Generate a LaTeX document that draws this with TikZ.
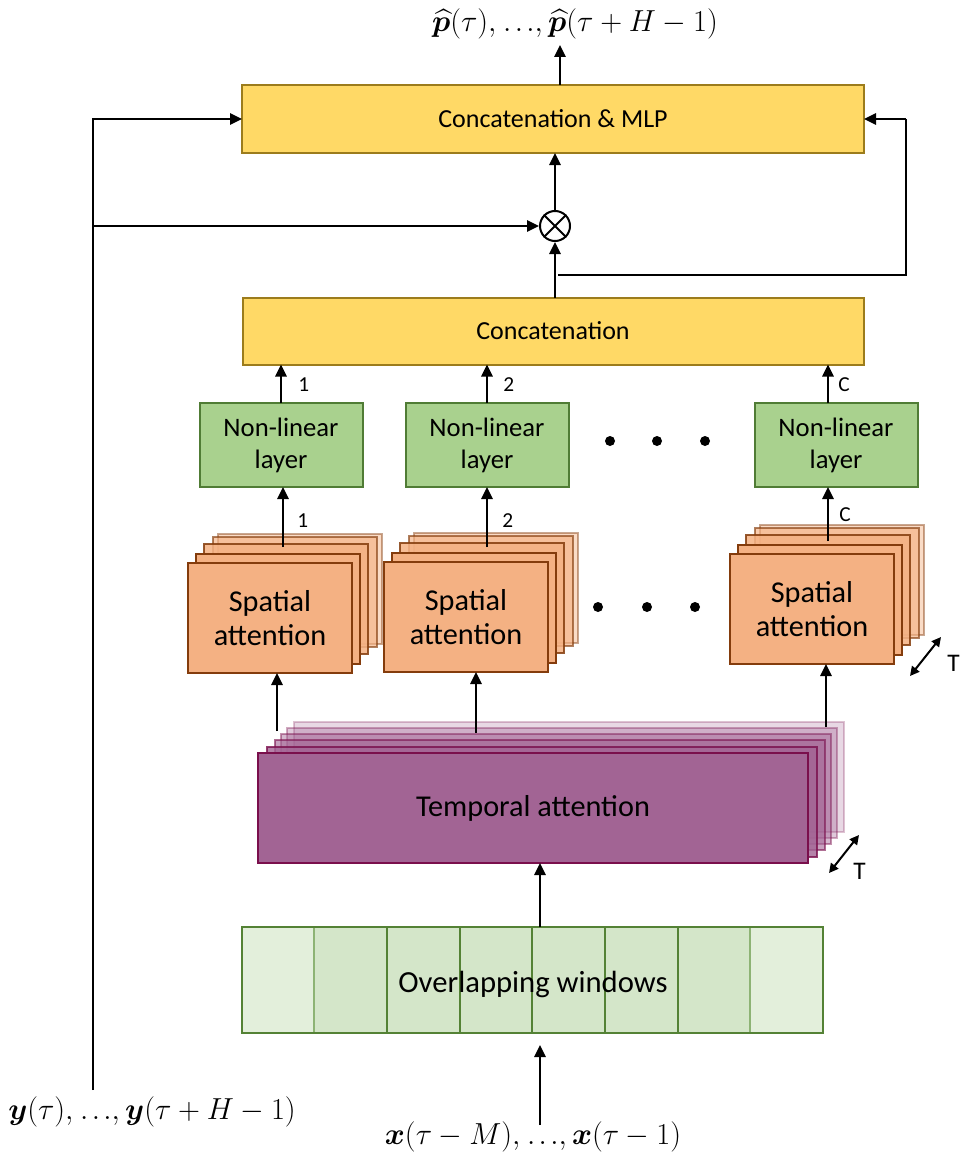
\documentclass[tikz,border=0pt]{standalone}
\usepackage{amsmath,bm}
\usepackage{fontspec}
\setmainfont{Carlito}
\usetikzlibrary{arrows.meta}

\definecolor{yfill}{HTML}{FFD966}
\definecolor{yedge}{HTML}{9C7C1C}
\definecolor{gfill}{HTML}{A9D18E}
\definecolor{gedge}{HTML}{507C35}
\definecolor{sfill}{HTML}{F4B183}
\definecolor{sedge}{HTML}{843C0C}
\definecolor{tfill}{HTML}{A26494}
\definecolor{tedge}{HTML}{7A0F4C}
\definecolor{wlight}{HTML}{E3EFDB}
\definecolor{wmid}{HTML}{D4E6C9}
\definecolor{wedge}{HTML}{548235}
\definecolor{wsoft}{HTML}{8DB374}

% compact ellipsis between comma-separated terms
\newcommand{\tightdots}{\mkern1mu.\mkern2mu.\mkern2mu.}
% series labels, set slightly larger than the nearest math design size
\newcommand{\serieslabel}[1]{\scalebox{1.1}{$#1$}}

\begin{document}
\begin{tikzpicture}[x=0.75pt,y=-0.75pt,
  arr/.style={line width=1.5pt,-{Triangle[length=9pt,width=8.5pt]}},
  dbl/.style={line width=1.5pt,{Triangle[length=7pt,width=7pt]}-{Triangle[length=7pt,width=7pt]}},
  ln/.style={line width=1.5pt},
  wh/.style 2 args={minimum width=#1*0.75pt,minimum height=#2*0.75pt,inner sep=0pt,outer sep=0pt},
  ybox/.style={draw=yedge,fill=yfill,line width=1.5pt,font=\fontsize{19.5}{23}\selectfont},
  gbox/.style={draw=gedge,fill=gfill,line width=1.5pt,align=center,wh={163}{84},
    font=\fontsize{20}{24}\selectfont},
  sbox/.style={draw=sedge,fill=sfill,line width=1.5pt,align=center,wh={164}{110},
    font=\fontsize{22.7}{25.5}\selectfont},
  tbox/.style={draw=tedge,fill=tfill,line width=1.5pt,wh={550}{110},
    font=\fontsize{22.7}{26}\selectfont},
  cell/.style={line width=1.5pt,wh={73}{106}},
  small/.style={font=\fontsize{16}{18}\selectfont,inner sep=0pt},
  tlab/.style={font=\fontsize{19}{21}\selectfont,inner sep=0pt},
  mathlab/.style={font=\fontsize{22}{26}\selectfont,inner sep=0pt}
]
\useasboundingbox (0,0) rectangle (960,1156);

% ---- spatial attention stack: a pile of translucent copies behind the front box
\newcommand{\spatialstack}[3]{%
  \foreach \dx/\dy/\op in {30/-29/0.45, 25/-26/0.65, 16/-19/0.85, 8/-9/1}
    \node[sbox,fill opacity=\op,draw opacity=\op] at (#2+\dx,#3+\dy) {};
  \node[sbox] (#1) at (#2,#3) {Spatial\\attention};
}

% ---- outputs and the top fusion block
\node[ybox,wh={622}{68}] (mlp) at (553,119) {Concatenation \& MLP};
\node[mathlab] (phat) at (575,24)
  {\serieslabel{\widehat{\bm p}(\tau),\tightdots,\widehat{\bm p}(\tau+H-1)}};
\coordinate (outtip) at (560,45);
\draw[arr] (mlp.north -| outtip) -- (outtip);

\node[circle,draw,line width=1.5pt,minimum size=30*0.75pt,inner sep=0pt] (mul) at (555,226) {};
\draw[line width=1.5pt] (mul.north east) -- (mul.south west)
                        (mul.north west) -- (mul.south east);
\draw[arr] (mul.north) -- (mlp.south -| mul);

\node[ybox,wh={621}{67}] (concat) at (553,331) {Concatenation};
\draw[arr] (concat.north -| mul) -- (mul.south);

% skip connection round the right side
\coordinate (tap) at (558,275);
\coordinate (rail) at (906,119);
\draw[ln] (tap) -| (rail);
\draw[arr] (rail) -- (mlp.east);

% target series fed in from the left
\node[mathlab] (ylab) at (152,1112)
  {\serieslabel{\bm y(\tau),\tightdots,\bm y(\tau+H-1)}};
\coordinate (ybot) at (93,1090);
\coordinate (ytap) at (93,226);
\draw[arr] (ybot) |- (mlp.west);
\draw[arr] (ytap) -- (mul.west);

% ---- non-linear heads
\node[gbox] (nl1) at (281,445) {Non-linear\\layer};
\node[gbox] (nl2) at (487,445) {Non-linear\\layer};
\node[gbox] (nlC) at (836,445) {Non-linear\\layer};
\draw[arr] (nl1.north) -- (concat.south -| nl1);
\draw[arr] (nl2.north) -- (concat.south -| nl2);
\draw[arr] (nl1.north -| 828,0) -- (concat.south -| 828,0);
\node[small,anchor=west] (n1a) at (298,385) {1};
\node[small,anchor=west] (n2a) at (503,385) {2};
\node[small,anchor=west] (nCa) at (838,385) {C};
\foreach \x in {610,657,705} \fill (\x,441) circle[radius=5];

% ---- spatial attention stacks
\spatialstack{sa1}{270}{618}
\spatialstack{sa2}{466}{617}
\spatialstack{saC}{812}{609}
\draw[arr] (283,547) -- (nl1.south -| 283,0);
\draw[arr] (487,547) -- (nl2.south);
\draw[arr] (828,541) -- (nlC.south -| 828,0);
\node[small,anchor=west] (n1b) at (297,521) {1};
\node[small,anchor=west] (n2b) at (502,521) {2};
\node[small,anchor=west] (nCb) at (839,515) {C};
\foreach \x in {598,647,695} \fill (\x,607) circle[radius=5];
\coordinate (tsA) at (910,676);
\coordinate (teA) at (941,637);
\draw[dbl] (tsA) -- (teA);
\node[tlab,anchor=west] (TA) at (947,663) {T};

% ---- temporal attention stack
\foreach \dx/\dy/\op in {36/-31/0.25, 29/-25/0.35, 23/-19/0.45, 17/-13/0.6, 9/-6/0.8}
  \node[tbox,fill opacity=\op,draw opacity=\op] at (533+\dx,808+\dy) {};
\node[tbox] (ta) at (533,808) {Temporal attention};
\draw[arr] (277,731) -- (sa1.south -| 277,0);
\draw[arr] (476,733) -- (sa2.south -| 476,0);
\draw[arr] (826,727) -- (saC.south -| 826,0);
\coordinate (tsB) at (829,873);
\coordinate (teB) at (859,835);
\draw[dbl] (tsB) -- (teB);
\node[tlab,anchor=west] (TB) at (853,871) {T};

% ---- overlapping input windows
\node[cell,fill=wlight,draw=wedge] (w1) at (278,980) {};
\node[cell,fill=wmid,draw=wsoft] (w2) at (350,980) {};
\node[cell,fill=wmid,draw=wedge] (w3) at (423,980) {};
\node[cell,fill=wmid,draw=wedge] (w4) at (496,980) {};
\node[cell,fill=wmid,draw=wedge] (w5) at (568,980) {};
\node[cell,fill=wmid,draw=wedge] (w6) at (641,980) {};
\node[cell,fill=wmid,draw=wedge] (w7) at (714,980) {};
\node[cell,fill=wlight,draw=wsoft] (w8) at (786,980) {};
\draw[wedge,line width=1.5pt] (242,927) rectangle (823,1033);
\draw[wedge,line width=1.5pt] (w3.north west) -- (w3.south west)
  (w7.north west) -- (w7.south west) (w6.north west) -- (w6.south west);
\node[font=\fontsize{23}{27}\selectfont,inner sep=0pt] (owin) at (533,984) {Overlapping windows};
\coordinate (wtop) at (540,927);
\draw[arr] (wtop) -- (ta.south -| wtop);

\node[mathlab] (xlab) at (533,1137)
  {\serieslabel{\bm x(\tau-M),\tightdots,\bm x(\tau-1)}};
\coordinate (xin) at (540,1125);
\coordinate (xtip) at (540,1045);
\draw[arr] (xin) -- (xtip);
\end{tikzpicture}
\end{document}
